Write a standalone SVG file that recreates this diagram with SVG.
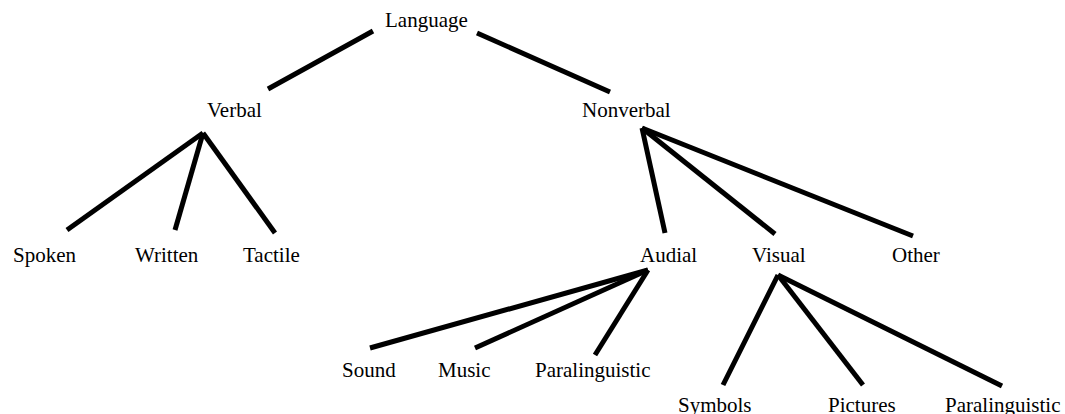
<svg xmlns="http://www.w3.org/2000/svg" width="1065" height="414" viewBox="0 0 1065 414">
<style>
text{font-family:"Liberation Serif","Times New Roman",serif;font-size:21px;fill:#000}
.c line{stroke:#000;stroke-width:5;stroke-linecap:butt}
</style>
<rect width="1065" height="414" fill="#fff"/>
<g class="c" id="connectors">
<line x1="373" y1="31" x2="268" y2="89"/>
<line x1="477" y1="33" x2="610" y2="92"/>
<line x1="203" y1="133" x2="67" y2="230"/>
<line x1="203" y1="133" x2="175" y2="230"/>
<line x1="203" y1="133" x2="275" y2="233"/>
<line x1="642" y1="128" x2="665" y2="233"/>
<line x1="642" y1="128" x2="775" y2="234"/>
<line x1="642" y1="128" x2="913" y2="236"/>
<line x1="648" y1="270" x2="370" y2="348"/>
<line x1="648" y1="270" x2="475" y2="348"/>
<line x1="648" y1="270" x2="595" y2="355"/>
<line x1="778" y1="275" x2="723" y2="385"/>
<line x1="778" y1="275" x2="863" y2="385"/>
<line x1="778" y1="275" x2="1002" y2="386"/>
</g>
<g id="n-language"><text x="385" y="27">Language</text></g>
<g id="n-verbal"><text x="207" y="117">Verbal</text></g>
<g id="n-nonverbal"><text x="582" y="117">Nonverbal</text></g>
<g id="n-spoken"><text x="13" y="262">Spoken</text></g>
<g id="n-written"><text x="135" y="262">Written</text></g>
<g id="n-tactile"><text x="243" y="262">Tactile</text></g>
<g id="n-audial"><text x="640" y="262">Audial</text></g>
<g id="n-visual"><text x="752" y="262">Visual</text></g>
<g id="n-other"><text x="892" y="262">Other</text></g>
<g id="n-sound"><text x="342" y="377">Sound</text></g>
<g id="n-music"><text x="438" y="377">Music</text></g>
<g id="n-paraling1"><text x="535" y="377">Paralinguistic</text></g>
<g id="n-symbols"><text x="678" y="412">Symbols</text></g>
<g id="n-pictures"><text x="828" y="412">Pictures</text></g>
<g id="n-paraling2"><text x="945" y="412">Paralinguistic</text></g>
</svg>
